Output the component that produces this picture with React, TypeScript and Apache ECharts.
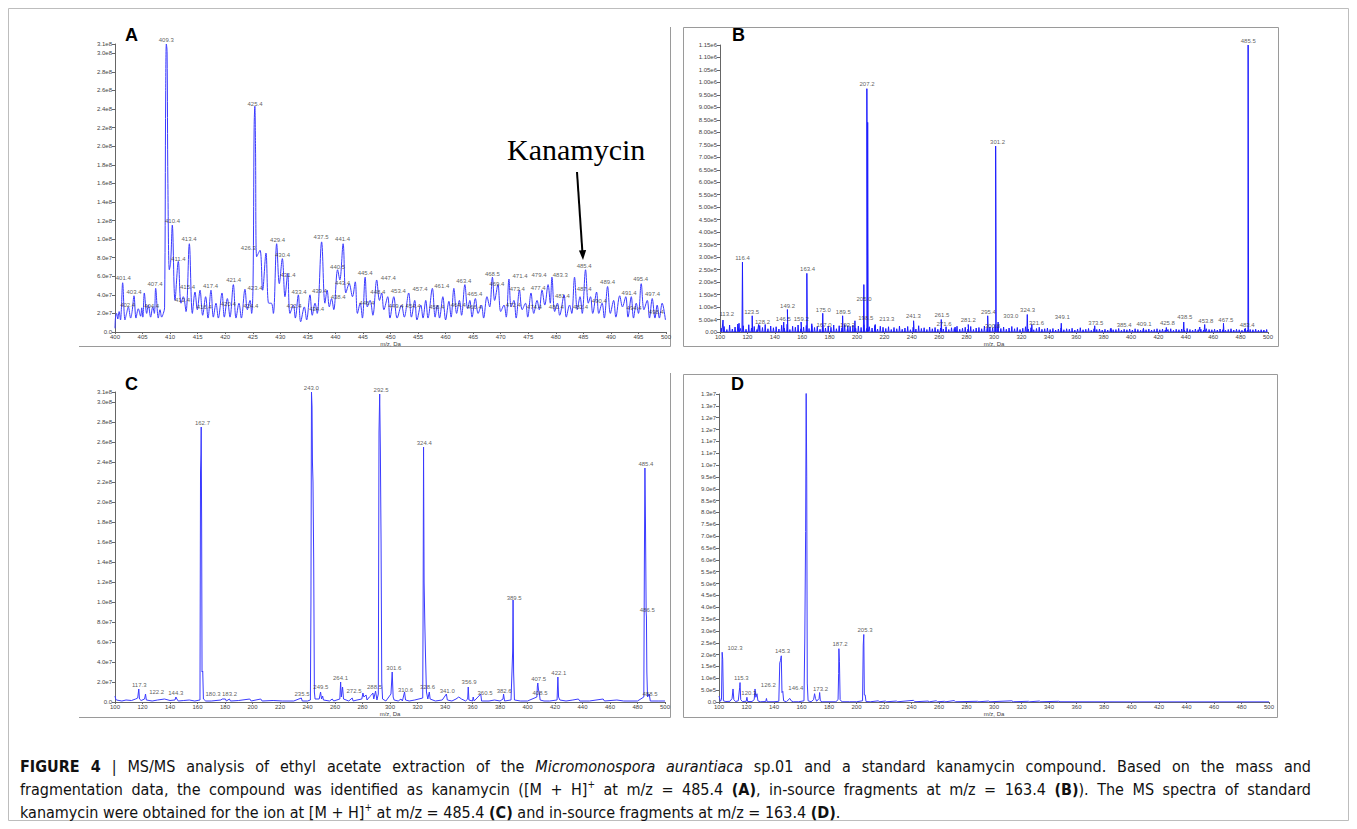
import React, { useEffect, useRef } from "react";
import * as echarts from "echarts";

// ---------- DATA ----------
// Panel A: profile spectrum, [m/z, intensity x1e7]
const A_PROFILE: [number, number][] = [
  [400.0, 0.4], [400.1, 1.6], [400.3, 2.0], [400.5, 1.4], [400.75, 2.2], [401.0, 1.3], [401.15, 2.4], [401.39, 5.3],
  [401.81, 1.3], [402.1, 2.0], [402.42, 2.7], [402.84, 1.5], [403.1, 2.2], [403.45, 3.9], [403.81, 1.5], [404.23, 2.5],
  [404.66, 1.7], [404.85, 2.6], [405.05, 1.6], [405.32, 4.2], [405.75, 2.0], [406.05, 2.9], [406.47, 1.6], [406.84, 2.7],
  [407.14, 2.0], [407.38, 4.7], [407.86, 1.5], [408.17, 2.4], [408.47, 1.6], [408.77, 2.0], [409.0, 2.6], [409.2, 26.0],
  [409.32, 31.0], [409.45, 30.2], [409.6, 16.0], [409.86, 6.7], [410.1, 7.5], [410.4, 11.5], [410.89, 3.4], [411.49, 7.6],
  [411.98, 3.1], [412.4, 3.8], [412.89, 2.2], [413.49, 9.5], [414.04, 2.0], [414.52, 4.3], [414.94, 2.4], [415.43, 4.5],
  [415.91, 1.8], [416.45, 3.8], [416.88, 1.5], [417.42, 4.5], [417.85, 1.6], [418.33, 3.1], [418.75, 1.5], [419.42, 4.2],
  [419.84, 1.6], [420.39, 3.6], [420.87, 1.6], [421.48, 5.1], [421.96, 1.5], [422.5, 3.1], [422.93, 1.5], [423.59, 4.6],
  [424.02, 2.4], [424.5, 3.4], [424.8, 2.0], [425.05, 5.0], [425.25, 22.0], [425.38, 24.3], [425.5, 20.0], [425.71, 8.1],
  [426.32, 8.8], [426.8, 4.5], [427.4, 8.5], [427.89, 3.1], [428.37, 3.1], [428.74, 2.0], [429.34, 9.5], [429.82, 5.2],
  [430.37, 7.9], [430.85, 3.8], [431.34, 6.3], [431.76, 2.0], [432.37, 2.9], [432.73, 1.5], [433.27, 4.0], [433.7, 1.1],
  [434.36, 2.7], [434.78, 1.3], [435.39, 4.0], [435.8, 1.8], [436.3, 3.1], [436.7, 2.0], [437.5, 9.7], [438.1, 3.1],
  [438.5, 4.5], [438.9, 2.7], [439.3, 3.6], [439.7, 2.4], [440.4, 6.7], [440.8, 5.6], [441.4, 9.5], [441.9, 4.2],
  [442.5, 5.2], [443.1, 3.8], [443.6, 5.4], [444.0, 2.0], [444.5, 3.1], [444.9, 1.5], [445.4, 5.9], [445.8, 2.7],
  [446.3, 3.4], [446.8, 1.8], [447.5, 5.6], [448.0, 3.4], [448.4, 4.2], [448.8, 2.4], [449.5, 3.8], [449.9, 1.5],
  [450.6, 3.8], [451.2, 1.5], [452.0, 2.9], [452.5, 1.6], [453.3, 4.2], [453.8, 1.6], [454.4, 3.4], [454.8, 1.3],
  [455.5, 2.9], [455.9, 1.5], [456.4, 3.4], [456.8, 1.5], [457.6, 4.7], [458.1, 1.6], [458.5, 2.9], [458.9, 1.5],
  [459.5, 3.8], [460.0, 1.3], [460.6, 3.3], [461.0, 1.6], [461.5, 4.7], [462.0, 2.0], [462.5, 3.4], [462.9, 1.8],
  [463.5, 5.1], [464.0, 2.5], [464.4, 3.4], [464.8, 1.6], [465.4, 3.6], [465.9, 2.0], [466.5, 2.9], [466.9, 1.5],
  [467.5, 3.8], [468.0, 2.7], [468.5, 5.9], [468.9, 3.4], [469.5, 5.1], [470.0, 2.2], [470.6, 2.9], [471.0, 1.6],
  [471.5, 5.7], [471.9, 2.7], [472.4, 3.4], [472.8, 1.5], [473.4, 4.5], [473.9, 2.4], [474.5, 3.1], [474.9, 1.6],
  [475.5, 4.2], [476.0, 2.0], [476.6, 3.4], [477.0, 2.4], [477.5, 4.5], [478.0, 2.9], [478.6, 5.1], [479.0, 3.1],
  [479.3, 5.9], [479.8, 2.2], [480.3, 3.1], [480.7, 1.8], [481.5, 4.0], [481.9, 1.6], [482.5, 2.9], [482.9, 2.0],
  [483.4, 5.9], [483.9, 2.4], [484.4, 3.8], [484.8, 2.0], [485.4, 6.7], [485.9, 3.1], [486.3, 3.8], [486.7, 2.0],
  [487.4, 4.3], [487.8, 2.0], [488.4, 3.1], [488.8, 1.5], [489.4, 4.9], [489.9, 2.0], [490.5, 3.4], [490.9, 1.6],
  [491.6, 3.9], [492.1, 2.7], [492.7, 3.8], [493.1, 1.6], [493.7, 3.8], [494.1, 1.5], [494.6, 3.1], [495.0, 2.0],
  [495.5, 5.2], [496.0, 2.4], [496.6, 3.4], [497.0, 1.5], [497.5, 3.6], [498.0, 1.5], [498.4, 2.9], [498.8, 1.5],
  [499.3, 3.1], [499.9, 1.3],
];
// [label, m/z where the label sits, intensity x1e7 where the label sits]
const A_LABELS: [string, number, number][] = [
  ["401.4", 401.5, 5.33], ["402.4", 402.3, 2.42], ["403.4", 403.45, 3.82], ["404.4", 406.66, 2.31], ["407.4", 407.26, 4.68],
  ["409.3", 409.3, 31.0], ["410.4", 410.44, 11.46], ["411.4", 411.5, 7.37], ["412.4", 412.25, 2.96], ["413.4", 413.43, 9.53],
  ["415.4", 413.16, 4.33], ["416.4", 416.19, 2.24], ["417.4", 417.33, 4.47], ["420.4", 420.56, 2.53], ["421.4", 421.54, 5.11],
  ["423.4", 425.4, 4.28], ["424.4", 424.65, 2.35], ["425.4", 425.4, 24.1], ["426.3", 424.2, 8.59], ["429.4", 429.5, 9.42],
  ["430.4", 430.4, 7.8], ["431.4", 431.4, 5.65], ["432.4", 432.5, 2.31], ["433.4", 433.4, 3.85], ["434.4", 436.6, 1.99],
  ["437.5", 437.4, 9.71], ["439.4", 437.1, 3.93], ["438.4", 440.5, 3.32], ["440.5", 440.4, 6.48], ["441.4", 441.3, 9.49],
  ["443.4", 441.3, 4.82], ["445.4", 445.4, 5.9], ["446.4", 445.7, 2.6], ["448.4", 447.7, 3.79], ["447.4", 449.6, 5.3],
  ["453.4", 451.4, 3.93], ["449.4", 451.0, 2.31], ["454.4", 454.1, 2.31], ["457.4", 455.35, 4.11], ["458.4", 458.4, 2.17],
  ["461.4", 459.3, 4.47], ["463.4", 463.3, 5.04], ["464.4", 462.3, 2.42], ["465.4", 465.3, 3.61], ["466.4", 465.2, 2.17],
  ["468.5", 468.5, 5.76], ["469.4", 469.3, 4.68], ["471.4", 473.5, 5.54], ["472.4", 472.3, 2.42], ["473.4", 473.0, 4.11],
  ["474.4", 476.1, 2.24], ["477.4", 476.8, 4.22], ["479.4", 476.95, 5.65], ["480.4", 480.1, 2.24], ["481.4", 481.2, 3.42],
  ["483.3", 480.8, 5.65], ["482.4", 484.5, 2.24], ["485.4", 485.15, 6.62], ["487.4", 485.15, 4.11], ["489.4", 489.4, 4.93],
  ["490.4", 487.9, 2.88], ["491.4", 493.3, 3.75], ["494.4", 494.2, 2.13], ["495.4", 495.4, 5.19], ["497.4", 497.55, 3.57],
  ["498.4", 498.25, 1.7],
];

// Panel B: stick spectrum, [m/z, intensity x1e4]
const B_PEAKS: [number, number][] = [
  [102.2, 4.8], [113.9, 3.5], [116.4, 28.0], [123.5, 6.5], [128.2, 3.0], [146.5, 4.0], [149.2, 9.0], [159.2, 4.0],
  [163.4, 23.5], [167.0, 2.5], [175.0, 7.5], [189.5, 6.5], [193.2, 2.5], [198.5, 4.5], [205.0, 19.0], [207.2, 97.5],
  [207.8, 84.0], [213.3, 3.0], [241.3, 4.5], [261.5, 5.0], [271.6, 2.0], [281.2, 3.0], [295.4, 6.5], [300.8, 3.0],
  [301.2, 74.5], [303.0, 4.0], [324.3, 7.0], [327.6, 3.0], [349.1, 3.5], [373.5, 2.5], [385.4, 1.5], [409.1, 1.5],
  [425.8, 1.8], [438.5, 4.0], [450.2, 2.0], [453.8, 3.0], [467.5, 3.5], [483.4, 1.5], [485.5, 115.0],
];
// noise sticks, every 2 Da starting at m/z 101, intensity x1e4
const B_NOISE_START = 101;
const B_NOISE_STEP = 2;
const B_NOISE: number[] = [
  1.5, 2.2, 1.0, 2.8, 1.2, 2.0, 3.2, 1.4, 2.5, 1.1, 2.9, 1.6, 2.2, 1.0, 2.6, 1.8, 3.0, 1.3, 2.4, 1.7,
  2.1, 1.2, 2.7, 1.5, 3.1, 1.0, 2.3, 1.9, 2.8, 1.3, 2.0, 2.6, 1.4, 3.3, 1.8, 2.2, 1.1, 2.9, 1.6, 2.4,
  1.9, 2.8, 1.3, 2.5, 1.7, 3.0, 1.2, 2.2, 2.7, 1.5, 2.4, 1.8, 2.9, 1.4, 2.1, 1.6, 2.6, 1.2, 2.3, 1.9,
  1.4, 2.1, 1.0, 1.8, 1.3, 2.4, 1.1, 1.6, 2.2, 0.9, 1.9, 1.2, 2.5, 1.4, 1.7, 1.0, 2.0, 1.3, 1.8, 1.1,
  1.6, 1.2, 2.1, 1.0, 1.7, 1.4, 2.3, 1.1, 1.5, 1.9, 1.2, 2.2, 1.0, 1.6, 1.8, 1.3, 2.4, 1.5, 2.0, 1.7,
  1.8, 2.5, 1.4, 2.0, 1.1, 1.6, 2.2, 1.3, 1.8, 1.0, 1.5, 2.1, 1.2, 1.7, 0.9, 1.4, 1.9, 1.1, 1.3, 1.6,
  1.0, 1.4, 0.8, 1.2, 1.6, 0.9, 1.3, 1.1, 1.5, 0.8, 1.2, 1.7, 0.9, 1.1, 1.4, 0.7, 1.3, 1.0, 1.2, 0.8,
  1.1, 0.8, 1.3, 0.9, 1.0, 1.4, 0.7, 1.1, 0.9, 1.2, 0.8, 1.3, 1.0, 0.7, 1.1, 0.9, 1.2, 0.8, 1.0, 1.3,
  0.9, 1.2, 0.8, 1.0, 1.3, 0.7, 1.1, 0.9, 1.2, 0.8, 1.4, 1.0, 0.7, 1.2, 0.9, 1.1, 0.8, 1.3, 1.0, 0.9,
  1.1, 0.8, 1.2, 0.9, 0.7, 1.0, 1.3, 0.8, 1.1, 0.9, 0.7, 1.2, 0.8, 1.0, 0.9, 1.1, 0.7, 0.9, 0.8, 1.0,
];
const B_LABELS: [string, number, number][] = [
  ["113.2", 104.9, 5.4], ["116.4", 116.4, 27.7], ["123.5", 123.1, 6.3], ["128.2", 131.0, 2.3], ["146.5", 146.2, 3.3],
  ["149.2", 149.3, 8.6], ["159.2", 159.3, 3.3], ["163.4", 163.9, 23.5], ["167.0", 175.9, 1.0], ["175.0", 175.4, 7.0],
  ["189.5", 190.0, 6.1], ["193.2", 193.1, 1.0], ["198.5", 206.4, 3.7], ["205.0", 205.1, 11.3], ["207.2", 207.3, 97.5],
  ["213.3", 221.7, 3.3], ["241.3", 241.2, 4.6], ["261.5", 262.0, 5.0], ["271.6", 263.5, 1.4], ["281.2", 281.2, 3.0],
  ["295.4", 295.9, 6.3], ["300.8", 298.9, 0.8], ["301.2", 302.6, 74.5], ["303.0", 312.3, 4.6], ["324.3", 324.5, 7.0],
  ["321.6", 331.0, 1.7], ["349.1", 349.8, 4.1], ["373.5", 374.3, 1.9], ["385.4", 395.0, 1.0], ["409.1", 409.5, 1.4],
  ["425.8", 426.6, 1.7], ["438.5", 439.2, 4.3], ["453.8", 454.6, 2.6], ["467.5", 469.2, 3.0], ["483.4", 484.8, 1.0],
  ["485.5", 485.6, 115.0],
];

// Panel C: profile, [m/z, intensity x1e7]
const C_PROFILE: [number, number][] = [
  [100, 0.6], [100.5, 0.3], [101, 0.2], [105, 0.1], [108, 0.2], [112, 0.15], [115, 0.3], [116.5, 0.4], [117.3, 1.3],
  [117.8, 0.3], [119, 0.15], [121.5, 0.3], [122.2, 0.8], [122.8, 0.2], [127, 0.1], [131, 0.2], [136, 0.3], [140, 0.15],
  [143.6, 0.2], [144.3, 0.5], [145, 0.3], [146, 0.1], [150, 0.15], [154, 0.2], [158, 0.1], [161.8, 0.2], [162.2, 23.0],
  [162.5, 24.8], [162.7, 27.5], [163.0, 18.0], [163.3, 3.0], [163.8, 3.1], [164.3, 0.3], [166, 0.1], [170, 0.1],
  [177, 0.2], [178, 0.3], [180.3, 0.3], [181, 0.1], [183.2, 0.3], [184, 0.1], [190, 0.15], [198, 0.3], [199, 0.1],
  [206, 0.3], [207, 0.1], [215, 0.15], [222, 0.1], [230, 0.1], [235.5, 0.4], [236.2, 0.1], [240, 0.1], [242.1, 0.2],
  [242.5, 9.9], [242.9, 31.0], [243.3, 29.5], [243.6, 24.0], [244.0, 22.0], [244.5, 14.2], [245.0, 1.0], [245.5, 0.3],
  [248.5, 0.3], [249.5, 1.0], [250.2, 0.3], [251, 0.6], [251.6, 0.2], [256, 0.1], [258, 0.3], [259, 0.1], [263.5, 0.3],
  [264.1, 2.0], [264.6, 0.5], [265.5, 1.5], [266.2, 0.3], [270, 0.1], [272.5, 0.4], [273.2, 0.1], [276, 0.2],
  [279.5, 0.3], [280.3, 0.9], [281, 0.5], [282.6, 0.7], [283.3, 0.2], [285, 0.5], [286.5, 0.7], [287.6, 0.9],
  [288.2, 0.3], [289.5, 1.1], [290.5, 0.2], [291.5, 0.8], [292.0, 27.0], [292.5, 30.8], [293.0, 25.0], [293.5, 16.0],
  [294.0, 2.0], [294.6, 0.3], [297, 0.1], [300.7, 0.8], [301.6, 3.0], [302.3, 0.5], [303, 0.2], [306, 0.1], [308, 0.3],
  [309, 0.1], [310.6, 1.0], [311.3, 0.2], [314, 0.1], [318, 0.2], [323.8, 0.4], [324.1, 10.0], [324.4, 25.5], [324.8, 12.0],
  [325.3, 8.0], [325.8, 4.8], [326.5, 1.0], [327.5, 0.3], [328.6, 1.0], [329.2, 0.3], [333, 0.1], [338, 0.2],
  [341.0, 0.8], [341.7, 0.2], [345, 0.1], [348, 0.3], [350, 0.5], [352, 0.3], [355, 0.1], [356.5, 0.3], [356.9, 1.5],
  [357.4, 0.2], [360, 0.1], [360.5, 0.5], [361.2, 0.1], [366, 0.8], [366.6, 0.1], [372, 0.1], [376, 0.2], [380, 0.1],
  [382.2, 0.3], [382.6, 0.8], [383.3, 0.1], [388, 0.2], [389.2, 5.0], [389.5, 10.2], [389.9, 3.0], [390.5, 0.2],
  [395, 0.1], [400, 0.1], [406.8, 0.5], [407.2, 1.6], [407.5, 1.9], [408, 1.2], [408.5, 1.0], [409.2, 0.2], [412, 0.1],
  [416, 0.1], [421.5, 0.2], [422.1, 2.5], [422.6, 0.5], [423.5, 0.2], [428, 0.1], [433, 0.2], [437, 0.3], [438, 0.1],
  [445, 0.1], [455, 0.3], [456, 0.1], [465, 0.2], [470, 0.1], [480, 0.1], [484.6, 0.5], [485.0, 14.0], [485.4, 23.4],
  [485.8, 18.0], [486.3, 9.0], [486.5, 8.5], [486.8, 3.0], [487.3, 0.5], [488.5, 0.8], [489.3, 0.1], [495, 0.1],
  [500, 0.1],
];
const C_LABELS: [string, number, number][] = [
  ["117.3", 117.6, 1.25], ["122.2", 130.3, 0.58], ["144.3", 144.2, 0.48], ["162.7", 163.6, 27.5], ["180.3", 171.3, 0.35],
  ["183.2", 183.3, 0.35], ["235.5", 236.0, 0.35], ["243.0", 242.8, 31.0], ["249.5", 249.7, 1.08], ["264.1", 264.0, 1.92],
  ["272.5", 273.8, 0.65], ["288.5", 288.7, 1.08], ["292.5", 293.5, 30.8], ["301.6", 302.8, 2.98], ["310.6", 311.3, 0.75],
  ["328.6", 327.3, 1.08], ["324.4", 324.9, 25.5], ["341.0", 341.6, 0.68], ["356.9", 357.5, 1.52], ["360.5", 369.1, 0.42],
  ["382.6", 383.0, 0.68], ["389.5", 390.3, 10.0], ["407.5", 408.1, 1.85], ["408.5", 409.1, 0.5], ["422.1", 422.8, 2.48],
  ["485.4", 486.1, 23.4], ["486.5", 487.1, 8.75], ["488.5", 489.1, 0.35],
];

// Panel D: profile, [m/z, intensity x1e5]
const D_PROFILE: [number, number][] = [
  [100, 2.5], [100.5, 1.5], [101, 0.3], [101.8, 1.0], [102.3, 21.0], [102.7, 18.0], [103.2, 0.5], [105, 0.2], [108, 0.3],
  [109.5, 1.5], [110.2, 5.5], [110.8, 1.0], [112, 0.2], [114, 0.5], [115.0, 6.0], [115.3, 8.2], [115.8, 1.0], [117, 0.2],
  [119.8, 0.3], [120.3, 2.0], [120.8, 0.2], [124, 0.2], [125.6, 1.0], [126.2, 5.5], [126.8, 2.0], [127.6, 3.5],
  [128.3, 0.5], [130, 0.1], [134, 0.2], [134.5, 1.5], [135, 0.1], [140, 0.1], [143.5, 0.3], [144.2, 16.5], [144.7, 17.5],
  [145.3, 19.5], [145.8, 4.0], [146.4, 4.5], [147, 0.5], [149, 0.1], [151.5, 1.5], [152.5, 0.5], [154, 0.1], [158, 0.1],
  [161.8, 0.5], [162.4, 27.0], [163.0, 72.0], [163.4, 132.0], [163.8, 95.0], [164.2, 8.0], [164.8, 0.5], [167, 0.1],
  [168.8, 1.0], [169.5, 3.5], [170.2, 1.5], [171, 0.3], [172.8, 1.5], [173.2, 4.0], [173.7, 0.5], [175, 0.1], [180, 0.1],
  [185, 0.1], [186.6, 1.0], [187.0, 12.0], [187.2, 22.5], [187.6, 17.0], [188.1, 1.0], [189, 0.3], [190, 0.1], [195, 0.1],
  [200, 0.1], [204.4, 0.5], [204.9, 24.0], [205.3, 28.5], [205.7, 3.0], [206.3, 3.0], [206.9, 0.2], [210, 0.1],
  [216, 0.5], [216.5, 0.1], [221, 0.4], [222, 0.1], [229, 0.4], [230, 0.1], [241.5, 0.7], [242.5, 0.1], [252, 0.4],
  [253, 0.1], [258, 0.5], [259, 0.1], [264, 0.3], [265, 0.1], [271, 0.6], [272, 0.1], [288, 0.3], [289, 0.1], [296, 0.4],
  [297, 0.1], [313, 0.5], [314, 0.1], [325, 0.3], [326, 0.1], [333, 0.4], [334, 0.1], [347, 0.3], [348, 0.1],
  [400, 0.05], [500, 0.05],
];
const D_LABELS: [string, number, number][] = [
  ["102.3", 111.6, 21.0], ["115.3", 116.2, 8.1], ["120.3", 121.7, 1.8], ["126.2", 135.9, 5.3], ["145.3", 146.2, 19.5],
  ["146.4", 155.9, 3.9], ["163.4", 164.4, 132.0], ["173.2", 173.8, 3.6], ["187.2", 188.0, 22.5], ["205.3", 206.2, 28.5],
];

// axis settings
const A_X = { min: 400, max: 500, interval: 5 };
const A_Y = { min: 0, max: 3.1e8, interval: 2e7 };
const B_X = { min: 100, max: 500, interval: 20 };
const B_Y = { min: 0, max: 1.15e6, interval: 5e4 };
const C_X = { min: 100, max: 500, interval: 20 };
const C_Y = { min: 0, max: 3.1e8, interval: 2e7 };
const D_X = { min: 100, max: 500, interval: 20 };
const D_Y = { min: 0, max: 1.3e7, interval: 5e5 };

const PANEL_LETTERS = ["A", "B", "C", "D"];
const ANNOTATION = "Kanamycin";
const X_NAME = "m/z, Da";

// ---------- CHART ----------
const W = 1341;
const H = 813;
const FONT = "'Liberation Sans', Arial, Helvetica, sans-serif";
const LINE_BLUE = "#3a3aff";
const STICK_BLUE = "#1c1cff";

function expFmt(digits: number) {
  return (v: number) => {
    if (Math.abs(v) < 1e-9) return digits === 2 ? "0.00" : "0.0";
    return v.toExponential(digits).replace("e+", "e");
  };
}

function scaled(list: [number, number][], s: number) {
  return list.map(([x, y]) => [x, y * s]);
}

function sticks(list: [number, number][], hw: number, s: number) {
  const sorted = [...list].sort((a, b) => a[0] - b[0]);
  const out: number[][] = [];
  for (const [x, y] of sorted) {
    out.push([x - hw, 0], [x, y * s], [x + hw, 0]);
  }
  return out;
}

function labelSeries(idx: number, labels: [string, number, number][], s: number) {
  return {
    type: "scatter",
    xAxisIndex: idx,
    yAxisIndex: idx,
    symbol: "circle",
    symbolSize: 1,
    itemStyle: { color: "rgba(0,0,0,0)" },
    silent: true,
    z: 5,
    label: {
      show: true,
      position: "top",
      distance: 1,
      formatter: "{b}",
      fontSize: 6,
      color: "#333",
      fontFamily: FONT,
    },
    data: labels.map(([t, x, y]) => ({ name: t, value: [x, y * s] })),
  };
}

function xAxis(idx: number, cfg: { min: number; max: number; interval: number }) {
  return {
    type: "value",
    gridIndex: idx,
    min: cfg.min,
    max: cfg.max,
    interval: cfg.interval,
    name: X_NAME,
    nameLocation: "middle",
    nameGap: 9,
    nameTextStyle: { fontSize: 6, color: "#444", fontFamily: FONT },
    axisLine: { show: true, onZero: false, lineStyle: { color: "#666", width: 1 } },
    axisTick: { show: true, length: 2, lineStyle: { color: "#666" } },
    axisLabel: { fontSize: 6, color: "#444", margin: 2, fontFamily: FONT },
    splitLine: { show: false },
  };
}

function yAxis(idx: number, cfg: { min: number; max: number; interval: number }, digits: number) {
  return {
    type: "value",
    gridIndex: idx,
    min: cfg.min,
    max: cfg.max,
    interval: cfg.interval,
    axisLine: { show: true, lineStyle: { color: "#666", width: 1 } },
    axisTick: { show: true, length: 3, lineStyle: { color: "#666" } },
    axisLabel: { fontSize: 6, color: "#444", margin: 3, fontFamily: FONT, formatter: expFmt(digits) },
    splitLine: { show: false },
  };
}

function buildOption() {
  const bSticks: [number, number][] = [
    ...B_PEAKS,
    ...B_NOISE.map((v, i) => [B_NOISE_START + i * B_NOISE_STEP, v] as [number, number]),
  ];
  const frameStyle = { stroke: "#9a9a9a", fill: "none", lineWidth: 1 };
  const letterStyle = { fontSize: 18, fontWeight: "bold", fill: "#000", fontFamily: FONT };
  return {
    animation: false,
    backgroundColor: "#fff",
    grid: [
      { left: 107, top: 36, width: 551, height: 288 },
      { left: 712, top: 37, width: 548, height: 287 },
      { left: 107, top: 384, width: 550, height: 310 },
      { left: 711, top: 386, width: 550, height: 308 },
    ],
    xAxis: [xAxis(0, A_X), xAxis(1, B_X), xAxis(2, C_X), xAxis(3, D_X)],
    yAxis: [yAxis(0, A_Y, 1), yAxis(1, B_Y, 2), yAxis(2, C_Y, 1), yAxis(3, D_Y, 1)],
    series: [
      {
        type: "line",
        xAxisIndex: 0,
        yAxisIndex: 0,
        data: scaled(A_PROFILE, 1e7),
        showSymbol: false,
        smooth: 0.35,
        lineStyle: { color: LINE_BLUE, width: 1 },
      },
      labelSeries(0, A_LABELS, 1e7),
      {
        type: "line",
        xAxisIndex: 1,
        yAxisIndex: 1,
        data: sticks(bSticks, 0.35, 1e4),
        showSymbol: false,
        lineStyle: { color: STICK_BLUE, width: 1 },
      },
      labelSeries(1, B_LABELS, 1e4),
      {
        type: "line",
        xAxisIndex: 2,
        yAxisIndex: 2,
        data: scaled(C_PROFILE, 1e7),
        showSymbol: false,
        lineStyle: { color: LINE_BLUE, width: 1 },
      },
      labelSeries(2, C_LABELS, 1e7),
      {
        type: "line",
        xAxisIndex: 3,
        yAxisIndex: 3,
        data: scaled(D_PROFILE, 1e5),
        showSymbol: false,
        lineStyle: { color: LINE_BLUE, width: 1 },
      },
      labelSeries(3, D_LABELS, 1e5),
    ],
    graphic: [
      { type: "rect", shape: { x: 0.5, y: 0.5, width: W - 1, height: H - 1 }, style: { stroke: "#bdbdbd", fill: "none", lineWidth: 1 }, silent: true },
      // panel frames
      { type: "polyline", shape: { points: [[71, 338.5], [662.5, 338.5], [662.5, 19]] }, style: frameStyle, silent: true },
      { type: "rect", shape: { x: 675.5, y: 19.5, width: 595, height: 319 }, style: frameStyle, silent: true },
      { type: "polyline", shape: { points: [[71, 709.5], [662.5, 709.5], [662.5, 365]] }, style: frameStyle, silent: true },
      { type: "rect", shape: { x: 675.5, y: 366.5, width: 594, height: 343 }, style: frameStyle, silent: true },
      // panel letters
      { type: "text", x: 117, y: 18, style: { ...letterStyle, text: PANEL_LETTERS[0] } },
      { type: "text", x: 724, y: 18, style: { ...letterStyle, text: PANEL_LETTERS[1] } },
      { type: "text", x: 117, y: 367, style: { ...letterStyle, text: PANEL_LETTERS[2] } },
      { type: "text", x: 723, y: 367, style: { ...letterStyle, text: PANEL_LETTERS[3] } },
      // annotation
      {
        type: "text",
        x: 499,
        y: 126,
        style: { text: ANNOTATION, fontSize: 30, fill: "#000", fontFamily: "'Liberation Serif', 'Times New Roman', serif" },
      },
      { type: "line", shape: { x1: 569, y1: 164, x2: 574.4, y2: 244 }, style: { stroke: "#000", lineWidth: 2 } },
      { type: "polygon", shape: { points: [[575, 252], [570.9, 242.5], [578.1, 242.0]] }, style: { fill: "#000" } },
    ],
  };
}

export default function App() {
  const ref = useRef<HTMLDivElement>(null);
  useEffect(() => {
    if (!ref.current) return;
    const chart = echarts.init(ref.current, null, { renderer: "svg" });
    chart.setOption(buildOption() as any);
    return () => chart.dispose();
  }, []);
  const capFont = "'Liberation Sans Narrow', 'Arial Narrow', 'DejaVu Sans Condensed', 'Liberation Sans', sans-serif";
  const lineStyle: React.CSSProperties = {
    height: 23,
    lineHeight: "23px",
    whiteSpace: "nowrap",
    color: "#111",
  };
  const just: React.CSSProperties = { ...lineStyle, width: 1291, textAlign: "justify", textAlignLast: "justify" as any };
  const sup: React.CSSProperties = { fontSize: 10, verticalAlign: "top", lineHeight: "14px" };
  return (
    <div style={{ position: "relative", width: W, height: H }}>
      <div ref={ref} style={{ position: "absolute", left: 0, top: 0, width: W, height: H }} />
      <div style={{ position: "absolute", left: 12, top: 747, fontFamily: capFont, fontSize: 16 }}>
        <div style={just}>
          <b>FIGURE 4</b> | MS/MS analysis of ethyl acetate extraction of the <i>Micromonospora aurantiaca</i> sp.01 and a standard kanamycin compound. Based on the mass and
        </div>
        <div style={just}>
          fragmentation data, the compound was identified as kanamycin ([M + H]<span style={sup}>+</span> at m/z = 485.4 <b>(A)</b>, in-source fragments at m/z = 163.4 <b>(B)</b>). The MS spectra of standard
        </div>
        <div style={lineStyle}>
          kanamycin were obtained for the ion at [M + H]<span style={sup}>+</span> at m/z = 485.4 <b>(C)</b> and in-source fragments at m/z = 163.4 <b>(D)</b>.
        </div>
      </div>
    </div>
  );
}
